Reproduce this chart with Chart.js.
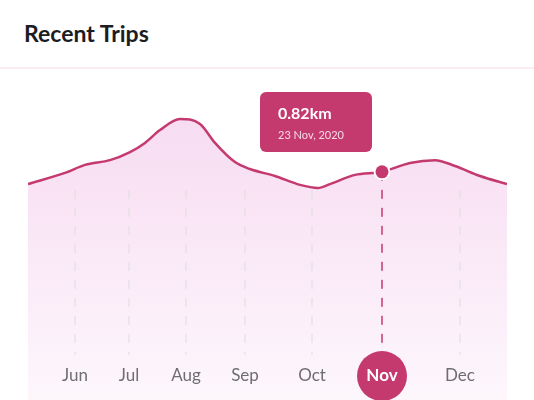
<!DOCTYPE html>
<html>
<head>
<meta charset="utf-8">
<script src="https://cdn.jsdelivr.net/npm/chart.js@4"></script>
<style>
  body { margin: 0; background: #fff; font-family: Lato, "Open Sans", sans-serif; }
  .wrap { position: relative; width: 534px; height: 400px; overflow: hidden; }
  h1 { position: absolute; left: 24px; top: 19px; margin: 0; font-size: 23px; font-weight: 700; color: #1d1d1f; }
  .sep { position: absolute; left: 0; right: 0; top: 67px; height: 2px; background: #fbeef3; }
  canvas { position: absolute; left: 0; top: 0; }
</style>
</head>
<body>
<div class="wrap">
  <h1>Recent Trips</h1>
  <div class="sep"></div>
  <canvas id="tripChart" width="534" height="400"></canvas>
</div>
<script>
// distance along the year (x) and km (y)
const tripX = [0, 37, 57, 82, 102, 117, 132, 152, 172, 187, 207, 222, 247, 272, 290, 302, 327, 354, 382, 407, 427, 452, 479];
const tripKm = [0.776, 0.816, 0.845, 0.862, 0.891, 0.924, 0.970, 1.010, 0.992, 0.924, 0.855, 0.830, 0.805, 0.773, 0.762, 0.776, 0.809, 0.820, 0.852, 0.862, 0.841, 0.805, 0.776];
const months = ['Jun', 'Jul', 'Aug', 'Sep', 'Oct', 'Nov', 'Dec'];
const monthX = [47, 101, 158, 217, 284, 354, 432];
const activeIndex = 5;
const activePoint = 17;
const tipValue = '0.82km';
const tipDate = '23 Nov, 2020';

const pink = '#c53a6e';

const overlay = {
    id: 'overlay',
    afterDatasetsDraw(chart) {
        const ctx = chart.ctx;
        const xs = chart.scales.x;
        const ys = chart.scales.y;
        ctx.save();
        // grid lines + labels
        monthX.forEach((m, i) => {
            const px = xs.getPixelForValue(m);
            ctx.setLineDash([9, 9]);
            ctx.lineWidth = i === activeIndex ? 1.5 : 1;
            ctx.strokeStyle = i === activeIndex ? pink : '#dedede';
            ctx.beginPath();
            const top = i === activeIndex ? ys.getPixelForValue(tripKm[activePoint]) : 190;
            ctx.moveTo(px, top);
            ctx.lineTo(px, 355);
            ctx.stroke();
            ctx.setLineDash([]);
            if (i === activeIndex) {
                ctx.fillStyle = pink;
                ctx.beginPath();
                ctx.arc(px, 376, 25, 0, Math.PI * 2);
                ctx.fill();
                ctx.fillStyle = '#fff';
                ctx.font = 'bold 17px Lato, sans-serif';
            } else {
                ctx.fillStyle = '#6e6e72';
                ctx.font = '17px Lato, sans-serif';
            }
            ctx.textAlign = 'center';
            ctx.textBaseline = 'middle';
            ctx.fillText(months[i], px, 376);
        });
        // active point
        const ax = xs.getPixelForValue(tripX[activePoint]);
        const ay = ys.getPixelForValue(tripKm[activePoint]);
        ctx.beginPath();
        ctx.arc(ax, ay, 8.5, 0, Math.PI * 2);
        ctx.fillStyle = '#fff';
        ctx.fill();
        ctx.beginPath();
        ctx.arc(ax, ay, 6.5, 0, Math.PI * 2);
        ctx.fillStyle = pink;
        ctx.fill();
        // tooltip box
        ctx.fillStyle = pink;
        ctx.beginPath();
        ctx.roundRect(260, 92, 112, 60, 6);
        ctx.fill();
        ctx.fillStyle = '#fff';
        ctx.textAlign = 'left';
        ctx.font = 'bold 16px Lato, sans-serif';
        ctx.fillText(tipValue, 278, 114);
        ctx.font = '11px Lato, sans-serif';
        ctx.fillStyle = '#f6dbe6';
        ctx.fillText(tipDate, 278, 135);
        ctx.restore();
    }
};

const canvas = document.getElementById('tripChart');
const ctx = canvas.getContext('2d');
const grad = ctx.createLinearGradient(0, 120, 0, 400);
grad.addColorStop(0, '#f7dcf2');
grad.addColorStop(1, '#fdf7fc');

new Chart(ctx, {
    type: 'line',
    data: {
        datasets: [{
            data: tripX.map((x, i) => ({ x: x, y: tripKm[i] })),
            borderColor: pink,
            borderWidth: 2.5,
            backgroundColor: grad,
            fill: 'start',
            tension: 0.4,
            cubicInterpolationMode: 'monotone',
            pointRadius: 0
        }]
    },
    options: {
        responsive: false,
        animation: false,
        layout: { padding: { left: 28, right: 27, top: 80, bottom: 0 } },
        scales: {
            x: { type: 'linear', min: 0, max: 479, display: false },
            y: { min: 0, max: 1.15, display: false }
        },
        plugins: { legend: { display: false }, tooltip: { enabled: false } }
    },
    plugins: [overlay]
});
</script>
</body>
</html>
